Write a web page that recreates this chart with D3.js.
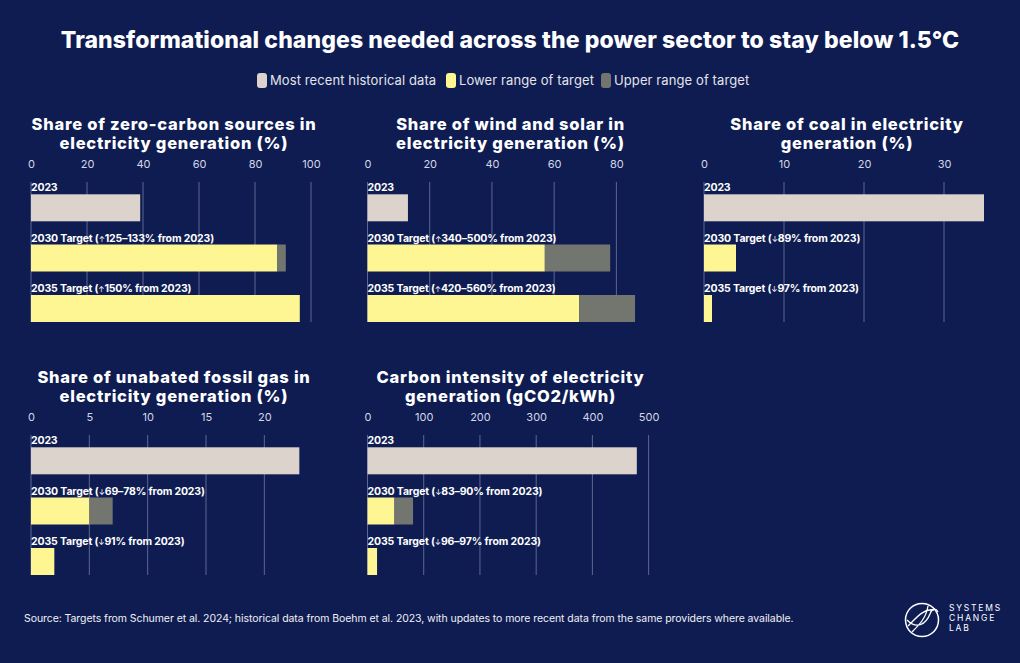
<!DOCTYPE html>
<html><head><meta charset="utf-8">
<script src="https://cdn.jsdelivr.net/npm/d3@7"></script>
<style>
html,body{margin:0;padding:0;background:#0e1c52;}
svg{display:block;}
text{font-family:Inter,"Open Sans",sans-serif;}
</style></head>
<body>
<svg id="c" width="1020" height="663"></svg>
<script>
// ---- data ----
const chartTitle = "Transformational changes needed across the power sector to stay below 1.5°C";
const legendLabels = ["Most recent historical data", "Lower range of target", "Upper range of target"];
const panelTitles = [
  ["Share of zero-carbon sources in", "electricity generation (%)"],
  ["Share of wind and solar in", "electricity generation (%)"],
  ["Share of coal in electricity", "generation (%)"],
  ["Share of unabated fossil gas in", "electricity generation (%)"],
  ["Carbon intensity of electricity", "generation (gCO2/kWh)"]
];
const rowLabels2023 = ["2023", "2023", "2023", "2023", "2023"];
const labels2030 = [
  ["↑", "125–133% from 2023)"], ["↑", "340–500% from 2023)"], ["↓", "89% from 2023)"],
  ["↓", "69–78% from 2023)"], ["↓", "83–90% from 2023)"]
];
const labels2035 = [
  ["↑", "150% from 2023)"], ["↑", "420–560% from 2023)"], ["↓", "97% from 2023)"],
  ["↓", "91% from 2023)"], ["↓", "96–97% from 2023)"]
];
const historical = [39, 13, 35, 23, 479];
const lower2030 = [88, 57, 4, 5, 48];
const upper2030 = [91, 78, null, 7, 81];
const lower2035 = [96, 68, 1, 2, 17];
const upper2035 = [null, 86, null, null, null];
const domainMax = [100, 90, 35, 24, 498];
const tickValues = [[0,20,40,60,80,100],[0,20,40,60,80],[0,10,20,30],[0,5,10,15,20],[0,100,200,300,400,500]];
const sourceText = "Source: Targets from Schumer et al. 2024; historical data from Boehm et al. 2023, with updates to more recent data from the same providers where available.";

// ---- style ----
const C = {bg:"#0e1c52", hist:"#dcd3cc", lower:"#fdf692", upper:"#72766f", grid:"#5d6790", text:"#ffffff", tick:"#d4d7e6"};

const svg = d3.select("#c");
svg.append("rect").attr("width",1020).attr("height",663).attr("fill",C.bg);

svg.append("text").attr("x",510).attr("y",48).attr("text-anchor","middle")
  .attr("fill",C.text).attr("font-size",23).attr("font-weight",800).attr("letter-spacing",0.1)
  .text(chartTitle);

// legend
const legendColors = [C.hist, C.lower, C.upper];
const legendX = [257, 446, 601];
legendLabels.forEach((l,i)=>{
  const g = svg.append("g").attr("transform",`translate(${legendX[i]},73)`);
  g.append("rect").attr("width",10).attr("height",15).attr("rx",3).attr("fill",legendColors[i]);
  g.append("text").attr("x",13).attr("y",12).attr("fill","#e4e4ea").attr("font-size",13).attr("letter-spacing",0.1).text(l);
});

const panelX = [31, 367.5, 704, 31, 367.5];
const panelY = [0, 0, 0, 253, 253];
const W = 280, barH = 27;

panelTitles.forEach((t,i)=>{
  const g = svg.append("g").attr("transform",`translate(${panelX[i]},${panelY[i]})`);
  const cx = W/2 + 3;
  const tt = g.append("text").attr("text-anchor","middle")
      .attr("fill",C.text).attr("font-size",16.5).attr("font-weight",800).attr("letter-spacing",0.75);
  t.forEach((line,j)=>{
    tt.append("tspan").attr("x",cx).attr("y",129.5 + j*19.5).text(line);
  });
  const x = d3.scaleLinear().domain([0, domainMax[i]]).range([0, W]);
  // ticks
  const ax = g.append("g").attr("transform","translate(0,160)")
    .call(d3.axisTop(x).tickValues(tickValues[i]).tickSize(0).tickPadding(0));
  ax.select(".domain").remove();
  ax.selectAll("text").attr("fill",C.tick).attr("font-size",11).attr("dy","0.7em")
    .attr("font-family","Inter, sans-serif");
  // grid
  g.selectAll("line.grid").data(tickValues[i]).join("line").attr("class","grid")
    .attr("x1",d=>x(d)).attr("x2",d=>x(d)).attr("y1",182).attr("y2",322)
    .attr("stroke",C.grid).attr("stroke-width",1);

  const rows = [
    {y:194.3, label:[null, rowLabels2023[i]], segs:[[0,historical[i],C.hist]]},
    {y:244.5, label:["2030 Target (", ...labels2030[i]], segs:[[0,lower2030[i],C.lower]].concat(upper2030[i]!=null?[[lower2030[i],upper2030[i],C.upper]]:[])},
    {y:295, label:["2035 Target (", ...labels2035[i]], segs:[[0,lower2035[i],C.lower]].concat(upper2035[i]!=null?[[lower2035[i],upper2035[i],C.upper]]:[])}
  ];
  rows.forEach(r=>{
    r.segs.forEach(s=>{
      g.append("rect").attr("x",x(s[0])).attr("y",r.y).attr("width",x(s[1])-x(s[0])).attr("height",barH).attr("fill",s[2]);
    });
    const tx = g.append("text").attr("x",0).attr("y",r.y-3).attr("fill",C.text)
      .attr("font-size",10.5).attr("font-weight",700).attr("letter-spacing",-0.15);
    if (r.label[0]===null) tx.text(r.label[1]);
    else {
      tx.append("tspan").text(r.label[0]);
      tx.append("tspan").attr("font-size",7.5).attr("font-weight",400).text(r.label[1]);
      tx.append("tspan").text(r.label[2]);
    }
  });
});

svg.append("text").attr("x",24).attr("y",622).attr("fill","#f0f0f4").attr("font-size",10.5)
  .attr("letter-spacing",-0.07).text(sourceText);

// logo
const logo = svg.append("g").attr("transform","translate(922,620)");
logo.append("circle").attr("r",16.5).attr("fill","none").attr("stroke","#fff").attr("stroke-width",1.5);
logo.append("path").attr("d","M-14,6 C-6,-2 2,-12 12,-10 M-15,0 C-5,10 4,4 8,-6 C10,-12 14,-12 16,-8 M-10,12 C-2,4 4,-2 6,-14")
  .attr("fill","none").attr("stroke","#fff").attr("stroke-width",1.3);
["SYSTEMS","CHANGE","LAB"].forEach((t,i)=>{
  logo.append("text").attr("x",27).attr("y",-9 + i*10).attr("fill","#fff").attr("font-size",8.5)
    .attr("letter-spacing",1.8).text(t);
});
</script>
</body></html>
